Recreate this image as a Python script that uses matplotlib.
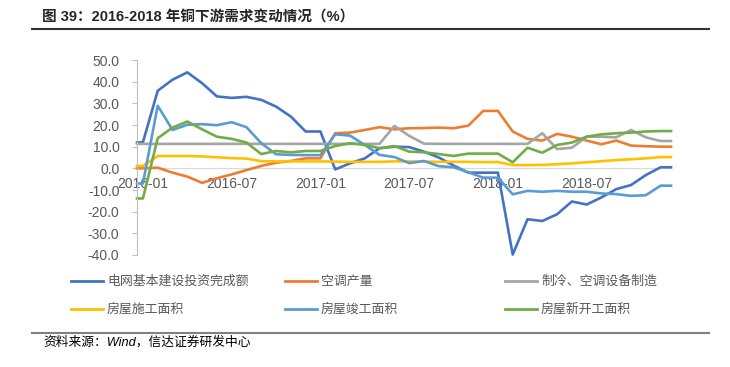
import matplotlib
matplotlib.use('Agg')
import matplotlib.pyplot as plt
from matplotlib.lines import Line2D

plt.rcParams['font.family'] = ['Liberation Sans', 'Noto Sans CJK SC', 'DejaVu Sans']

# month position: 0 = 2016-01 ... 35 = 2018-12 (chart has a short flat stub at both ends)
x_month = [-0.4] + list(range(36)) + [35.7]

grid_invest = [12, 12, 35.8, 40.9, 44.3, 39.3, 33.2, 32.5, 33.0, 31.6, 28.5, 23.9, 17.0, 17.0,
               -0.5, 2.3, 4.6, 9.3, 10.0, 9.8, 7.7, 5.0, 1.3, -2.0, -2.0, -2.0,
               -39.8, -23.5, -24.3, -21.2, -15.3, -16.7, -13.4, -9.6, -7.7, -3.1, 0.5, 0.5]
ac_output = [0, 0, 0.3, -2.0, -3.8, -6.7, -4.6, -2.8, -0.8, 1.1, 2.6, 3.4, 4.6, 4.6,
             16.2, 16.5, 17.7, 19.0, 18.0, 18.5, 18.6, 18.8, 18.5, 19.7, 26.5, 26.5,
             17.0, 13.6, 12.8, 15.9, 14.6, 12.8, 11.1, 12.8, 10.5, 10.2, 10.0, 10.0]
cooling_mfg = [11.3] * 18 + [19.6, 15.0, 11.4] + [11.3] * 7 + \
              [16.2, 8.9, 9.5, 14.6, 14.6, 14.3, 17.7, 14.3, 12.6, 12.6]
under_constr = [1.1, 1.1, 5.7, 5.7, 5.7, 5.5, 5.1, 4.7, 4.5, 3.3, 3.2, 3.2, 3.2, 3.2,
                3.1, 3.0, 3.0, 3.0, 3.2, 3.2, 3.1, 3.0, 3.0, 3.0, 2.9, 2.9,
                1.5, 1.5, 1.6, 1.9, 2.3, 2.8, 3.3, 3.8, 4.2, 4.6, 5.2, 5.2]
completed = [-7, -7, 28.9, 17.7, 20.1, 20.4, 19.9, 21.3, 19.0, 11.6, 6.5, 6.2, 6.1, 6.1,
             15.7, 15.1, 10.8, 6.2, 5.2, 2.4, 3.4, 1.0, 0.5, -1.8, -4.3, -4.3,
             -12.0, -10.4, -10.8, -10.4, -10.8, -10.8, -11.6, -11.9, -12.7, -12.4, -8.0, -8.0]
new_starts = [-13.9, -13.9, 13.9, 18.8, 21.6, 18.0, 14.6, 13.6, 11.9, 6.6, 8.0, 7.4, 8.0, 8.0,
              10.3, 11.6, 10.8, 9.3, 10.3, 7.7, 7.4, 6.6, 5.7, 6.8, 6.8, 6.8,
              2.8, 9.5, 7.2, 10.8, 11.9, 14.6, 15.7, 16.2, 16.5, 17.0, 17.2, 17.2]

series_names = ['电网基本建设投资完成额', '空调产量', '制冷、空调设备制造',
                '房屋施工面积', '房屋竣工面积', '房屋新开工面积']
series_vals = [grid_invest, ac_output, cooling_mfg, under_constr, completed, new_starts]
colors = ['#4472C4', '#ED7D31', '#A5A5A5', '#FFC000', '#5B9BD5', '#70AD47']

xtick_pos = [0, 6, 12, 18, 24, 30]
xtick_labels = ['2016-01', '2016-07', '2017-01', '2017-07', '2018-01', '2018-07']
yticks = [50, 40, 30, 20, 10, 0, -10, -20, -30, -40]

W, H = 730, 367
fig = plt.figure(figsize=(W / 100, H / 100), dpi=100)


def fx(px):
    return px / W


def fy(py):
    return 1 - py / H


ax = fig.add_axes([fx(137), fy(255), fx(671 - 137), (255 - 60) / H])
for vals, c in zip(series_vals, colors):
    ax.plot(x_month, vals, color=c, lw=1.9, solid_joinstyle='round', clip_on=False)

ax.set_xlim(-0.4, 35.7)
ax.set_ylim(-40, 50)
for s in ['top', 'right']:
    ax.spines[s].set_visible(False)
ax.spines['left'].set_color('#BFBFBF')
ax.spines['bottom'].set_position(('data', 0))
ax.spines['bottom'].set_color('#D9D9D9')
ax.spines['bottom'].set_zorder(0.5)

ax.set_yticks(yticks)
ax.set_yticklabels(['%.1f' % v for v in yticks])
ax.set_xticks(xtick_pos)
ax.set_xticklabels(xtick_labels)
ax.tick_params(axis='y', direction='out', length=3.6, width=0.8, color='#BFBFBF',
               pad=9, labelsize=10, labelcolor='#595959')
ax.tick_params(axis='x', length=0, pad=6, labelsize=10, labelcolor='#595959')

# legend, drawn by hand in three columns
col_x = [71, 285, 505]
row_y = [281, 309]
for k, (name, c) in enumerate(zip(series_names, colors)):
    cx = col_x[k % 3]
    cy = row_y[k // 3]
    fig.add_artist(Line2D([fx(cx), fx(cx + 32)], [fy(cy), fy(cy)], color=c, lw=2.0))
    fig.text(fx(cx + 36), fy(cy), name, fontsize=9.3, color='#595959', va='center', ha='left',
             family=['Noto Sans CJK SC', 'DejaVu Sans'])

# title and rules
fig.text(fx(42), fy(18), '图 39：2016-2018 年铜下游需求变动情况（%）', fontsize=10.5,
         fontweight='bold', color='#262626', va='center', ha='left')
fig.add_artist(Line2D([fx(32), fx(709)], [fy(29), fy(29)], color='#333333', lw=1.5))
fig.add_artist(Line2D([fx(32), fx(709)], [fy(332.5), fy(332.5)], color='#808080', lw=1.5))
fig.text(fx(43), fy(342), '资料来源：Wind，信达证券研发中心', fontsize=9.2, style='italic',
         color='#000000', va='center', ha='left')

fig.savefig('out.png', dpi=100)
